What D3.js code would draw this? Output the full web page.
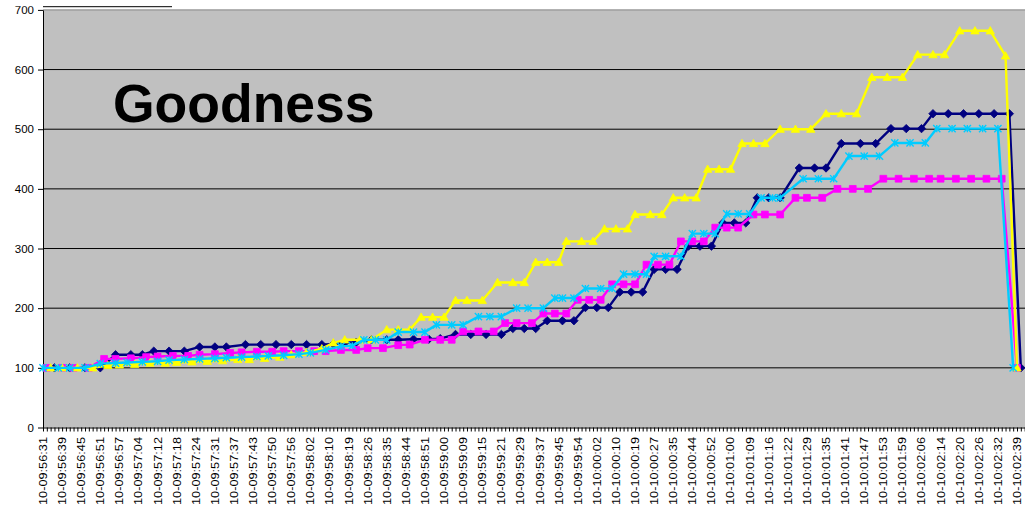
<!DOCTYPE html>
<html><head><meta charset="utf-8">
<script src="https://cdn.jsdelivr.net/npm/d3@7/dist/d3.min.js"></script>
<style>html,body{margin:0;padding:0;background:#fff;overflow:hidden}svg{display:block}</style>
</head><body><svg id="c" width="1025" height="509"></svg>
<script>
// ---- data ----
const chartTitle = "Goodness";
const timeLabels = ["10-09:56:31","10-09:56:39","10-09:56:45","10-09:56:51","10-09:56:57","10-09:57:04","10-09:57:12","10-09:57:18","10-09:57:24","10-09:57:31","10-09:57:37","10-09:57:43","10-09:57:50","10-09:57:56","10-09:58:02","10-09:58:10","10-09:58:19","10-09:58:26","10-09:58:35","10-09:58:44","10-09:58:51","10-09:59:00","10-09:59:09","10-09:59:15","10-09:59:21","10-09:59:29","10-09:59:37","10-09:59:45","10-09:59:54","10-10:00:02","10-10:00:10","10-10:00:19","10-10:00:27","10-10:00:35","10-10:00:44","10-10:00:52","10-10:01:00","10-10:01:09","10-10:01:16","10-10:01:22","10-10:01:29","10-10:01:35","10-10:01:41","10-10:01:47","10-10:01:53","10-10:01:59","10-10:02:06","10-10:02:14","10-10:02:20","10-10:02:26","10-10:02:32","10-10:02:39"];
const rowCount = 258;
const labelEvery = 5;
const yTicks = [0,100,200,300,400,500,600,700];

const navyRows = [3,7,11,15,19,23,26,29,33,37,41,45,48,53,57,61,65,69,73,76,79,82,86,90,93,97,101,104,108,112,116,120,123,126,129,132,136,139,142,145,148,151,154,157,160,163,166,169,172,175,178,181,184,187,190,193,198,202,205,209,214,218,222,226,230,233,237,241,245,249,253,256];
const navyValues = [100,100,100,100,122,122,122,128,128,128,135,135,135,139,139,139,139,139,139,140,142,143,147,147,147,148,148,149,156,156,156,156,166,166,166,179,179,179,201,201,201,227,227,227,265,265,265,304,304,304,343,343,343,385,385,385,435,435,435,476,476,476,501,501,501,526,526,526,526,526,526,100];

const magentaRows = [1,5,8,12,16,19,23,27,30,34,38,41,45,49,52,56,60,63,67,71,74,78,82,85,89,93,96,100,104,107,110,114,118,121,124,128,131,134,137,140,143,146,149,152,155,158,161,164,167,170,173,176,179,182,186,189,193,197,200,204,208,212,216,220,224,228,232,235,239,243,247,251,255];
const magentaValues = [100,100,100,100,115,115,116,118,119,120,120,122,123,125,126,127,127,128,128,128,128,130,130,133,133,138,139,147,147,147,161,161,161,175,175,175,191,191,191,214,214,214,240,240,240,273,273,273,312,312,312,335,335,335,357,357,357,385,385,385,400,400,400,417,417,417,417,417,417,417,417,417,100];

const yellowRows = [2,5,9,13,17,20,24,28,32,35,39,43,47,51,54,58,62,65,69,73,76,79,83,86,90,93,96,99,102,105,108,111,115,119,123,126,129,132,135,137,141,144,147,150,153,155,159,162,165,168,171,174,177,180,183,186,189,193,197,201,205,209,213,217,221,225,229,233,236,240,244,248,252,255];
const yellowValues = [100,100,100,100,104,105,106,108,108,109,110,111,112,114,114,116,118,122,126,132,142,147,147,147,164,164,164,185,185,185,213,213,213,243,243,243,277,277,277,312,312,312,333,333,333,357,357,357,385,385,385,433,433,433,476,476,476,500,500,500,526,526,526,587,587,587,625,625,625,665,665,665,623,100];

const cyanRows = [0,4,7,11,15,19,22,26,30,33,37,41,45,48,52,56,59,63,67,70,74,78,81,84,87,90,93,97,100,103,107,110,114,117,120,124,127,131,134,136,139,142,146,149,152,155,158,160,163,167,170,173,176,179,182,185,188,191,193,199,203,207,211,215,219,223,227,231,234,238,242,246,250,254];
const cyanValues = [100,100,100,100,107,108,109,110,111,113,114,115,116,117,118,119,120,121,123,125,130,136,137,147,147,147,160,160,160,172,172,172,186,186,186,200,200,200,217,217,217,233,233,233,257,257,257,287,287,287,325,325,325,358,358,358,385,385,385,417,417,417,455,455,455,477,477,477,501,501,501,501,501,100];

const seriesColors = ["#000080","#FF00FF","#FFFF00","#00CCFF"];
const seriesMarkers = ["diamond","square","triangle","star"];

// ---- drawing ----
const svg = d3.select("#c");
const font = "'Liberation Sans', Arial, sans-serif";
const L = 43, T = 10, B = 427.5, R = 1025;

const x = d3.scaleLinear().domain([0, 255]).range([L, 1017]);
const y = d3.scaleLinear().domain([0, 700]).range([B, 9.9]);

svg.append("rect").attr("x", L).attr("y", T).attr("width", R - L + 5).attr("height", B - T).attr("fill", "#C0C0C0");

// gridlines
svg.append("g").selectAll("line").data(yTicks.filter(v => v > 0 && v < 700)).join("line")
  .attr("x1", L).attr("x2", R).attr("y1", d => y(d)).attr("y2", d => y(d))
  .attr("stroke", "#000").attr("stroke-width", 1);
svg.append("line").attr("x1", L).attr("x2", R).attr("y1", y(700)).attr("y2", y(700))
  .attr("stroke", "#808080").attr("stroke-width", 1);

// y axis
const yAxis = svg.append("g").attr("transform", `translate(${L},0)`)
  .call(d3.axisLeft(y).tickValues(yTicks).tickSize(5).tickSizeOuter(0).tickFormat(d3.format("d")));
yAxis.select(".domain").attr("stroke", "#000");
yAxis.selectAll(".tick line").attr("stroke", "#000");
yAxis.selectAll(".tick text").attr("font-family", font).attr("font-size", 11.5).attr("fill", "#000").attr("x", -9);

// x axis ticks
const rows = d3.range(rowCount);
const xAxis = svg.append("g").attr("transform", `translate(0,${B})`)
  .call(d3.axisBottom(x).tickValues(rows).tickSize(4).tickSizeOuter(0).tickFormat(""));
xAxis.select(".domain").attr("stroke", "#000").attr("d", `M${L},0.5H${R}`);
xAxis.selectAll(".tick line").attr("stroke", "#000");

// x labels
svg.append("g").selectAll("text").data(timeLabels).join("text")
  .attr("transform", (d, i) => `translate(${x(i * labelEvery)},437) rotate(-90)`)
  .attr("dy", "0.36em")
  .attr("text-anchor", "end")
  .attr("font-family", font).attr("font-size", 11).attr("fill", "#000")
  .attr("textLength", 68).attr("lengthAdjust", "spacingAndGlyphs")
  .text(d => d);

// series
const series = [
  {rows: navyRows, values: navyValues},
  {rows: magentaRows, values: magentaValues},
  {rows: yellowRows, values: yellowValues},
  {rows: cyanRows, values: cyanValues}
];
function markerPath(type) {
  if (type === "diamond") { const r = 4.2; return `M0,${-r}L${r},0L0,${r}L${-r},0Z`; }
  if (type === "square") { const r = 3.4; return `M${-r},${-r}H${r}V${r}H${-r}Z`; }
  if (type === "triangle") { const r = 4.2; return `M0,${-r}L${r},${r*0.75}L${-r},${r*0.75}Z`; }
  const r = 3.6; return `M${-r},${-r}L${r},${r}M${r},${-r}L${-r},${r}M0,${-r}L0,${r}`;
}
const line = d3.line().x(d => x(d[0])).y(d => y(d[1]));
series.forEach((s, k) => {
  const pts = s.rows.map((r, i) => [r, s.values[i]]);
  const g = svg.append("g");
  g.append("path").datum(pts).attr("d", line).attr("fill", "none")
    .attr("stroke", seriesColors[k]).attr("stroke-width", 2.4).attr("stroke-linejoin", "round");
  const isStar = seriesMarkers[k] === "star";
  g.selectAll("path.m").data(pts).join("path").attr("class", "m")
    .attr("transform", d => `translate(${x(d[0])},${y(d[1])})`)
    .attr("d", markerPath(seriesMarkers[k]))
    .attr("fill", isStar ? "none" : seriesColors[k])
    .attr("stroke", seriesColors[k]).attr("stroke-width", isStar ? 1.4 : 0.8);
});

// title
svg.append("text").attr("x", 113).attr("y", 122)
  .attr("font-family", font).attr("font-weight", "bold").attr("font-size", 53.5).attr("fill", "#000")
  .text(chartTitle);

// top-left box remnant
svg.append("rect").attr("x", 0).attr("y", 0).attr("width", 172).attr("height", 6.2).attr("fill", "#fff");
svg.append("line").attr("x1", L).attr("x2", 172).attr("y1", 6.7).attr("y2", 6.7).attr("stroke", "#000").attr("stroke-width", 1);
</script>
</body></html>
